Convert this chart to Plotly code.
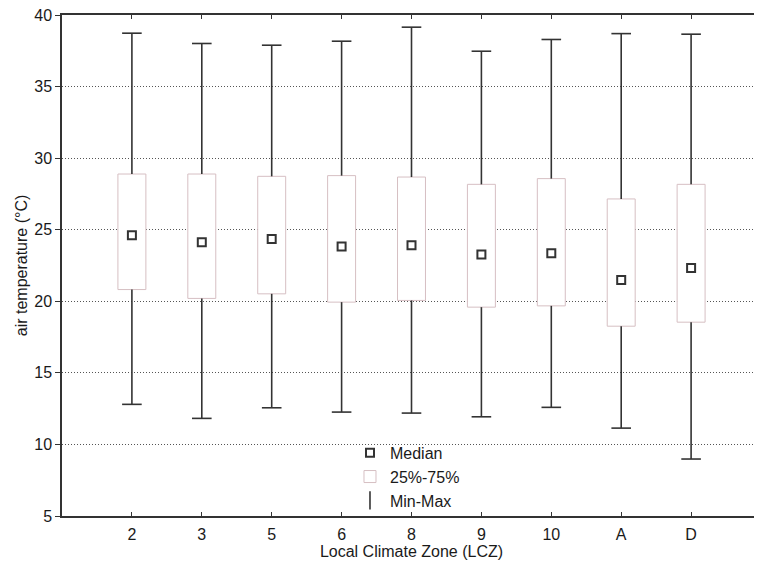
import plotly.graph_objects as go

zones = ["2", "3", "5", "6", "8", "9", "10", "A", "D"]
t_min = [12.80, 11.82, 12.56, 12.26, 12.19, 11.93, 12.59, 11.14, 8.98]
q1 = [20.82, 20.20, 20.52, 19.94, 20.06, 19.59, 19.68, 18.26, 18.54]
median = [24.61, 24.12, 24.36, 23.82, 23.91, 23.27, 23.36, 21.49, 22.33]
q3 = [28.89, 28.89, 28.73, 28.78, 28.68, 28.17, 28.57, 27.15, 28.17]
t_max = [38.73, 38.01, 37.89, 38.17, 39.15, 37.47, 38.29, 38.70, 38.66]

y_ticks = [5, 10, 15, 20, 25, 30, 35, 40]

DARK = "#333333"
PINK = "#d6bfc3"
FONT = "Liberation Sans, Arial, sans-serif"

fig = go.Figure()

# Boxes (25%-75%)
fig.add_trace(go.Bar(
    x=zones, y=[b - a for a, b in zip(q1, q3)], base=q1,
    width=0.4, marker=dict(color="white", line=dict(color=PINK, width=1)),
    name="25%-75%", showlegend=True, legendrank=2, hoverinfo="skip",
))

# Whisker segments
wx, wy = [], []
for z, lo, a, b, hi in zip(zones, t_min, q1, q3, t_max):
    wx += [z, z, None, z, z, None]
    wy += [hi, b, None, a, lo, None]
fig.add_trace(go.Scatter(
    x=wx, y=wy, mode="lines", line=dict(color=DARK, width=1.6),
    showlegend=False, hoverinfo="skip",
))
# Whisker caps
fig.add_trace(go.Scatter(
    x=zones + zones, y=t_max + t_min, mode="markers",
    marker=dict(symbol="line-ew", size=14, line=dict(color=DARK, width=1.6)),
    showlegend=False, hoverinfo="skip",
))

# Medians
fig.add_trace(go.Scatter(
    x=zones, y=median, mode="markers",
    marker=dict(symbol="square-open", size=8, color=DARK, line=dict(color=DARK, width=2)),
    name="Median", legendrank=1,
))

# Legend entry for min-max
fig.add_trace(go.Scatter(
    x=[None], y=[None], mode="markers",
    marker=dict(symbol="line-ns", size=13, line=dict(color=DARK, width=1.6)),
    name="Min-Max", legendrank=3,
))

fig.update_layout(
    width=762, height=571,
    margin=dict(l=54, r=9, t=7, b=63, autoexpand=False),
    plot_bgcolor="white", paper_bgcolor="white",
    font=dict(family=FONT, size=16, color="#1a1a1a"),
    barmode="overlay",
    legend=dict(
        x=0.412, y=0.16, xanchor="left", yanchor="top",
        bgcolor="rgba(0,0,0,0)", font=dict(size=16, color="#1a1a1a"),
        tracegroupgap=0, itemwidth=30,
    ),
    xaxis=dict(
        type="category", range=[-1, 9], automargin=False,
        showline=True, linecolor=DARK, linewidth=1.5, mirror="ticks",
        ticks="inside", ticklen=4, tickwidth=1, tickcolor=DARK,
        showgrid=False, zeroline=False,
        tickfont=dict(size=16), ticklabelstandoff=3,
        title=dict(text="Local Climate Zone (LCZ)", font=dict(size=16), standoff=2),
    ),
    yaxis=dict(
        range=[5, 40], tickvals=y_ticks, automargin=False,
        showline=True, linecolor=DARK, linewidth=1.5, mirror="ticks",
        ticks="outside", ticklen=5, tickwidth=1, tickcolor=DARK,
        showgrid=True, gridcolor="#555555", griddash="1px,2px", gridwidth=1,
        zeroline=False, ticklabeloverflow="allow",
        tickfont=dict(size=16),
        title=dict(text="air temperature (°C)", font=dict(size=16), standoff=3),
    ),
)

fig.write_html("out.html")
